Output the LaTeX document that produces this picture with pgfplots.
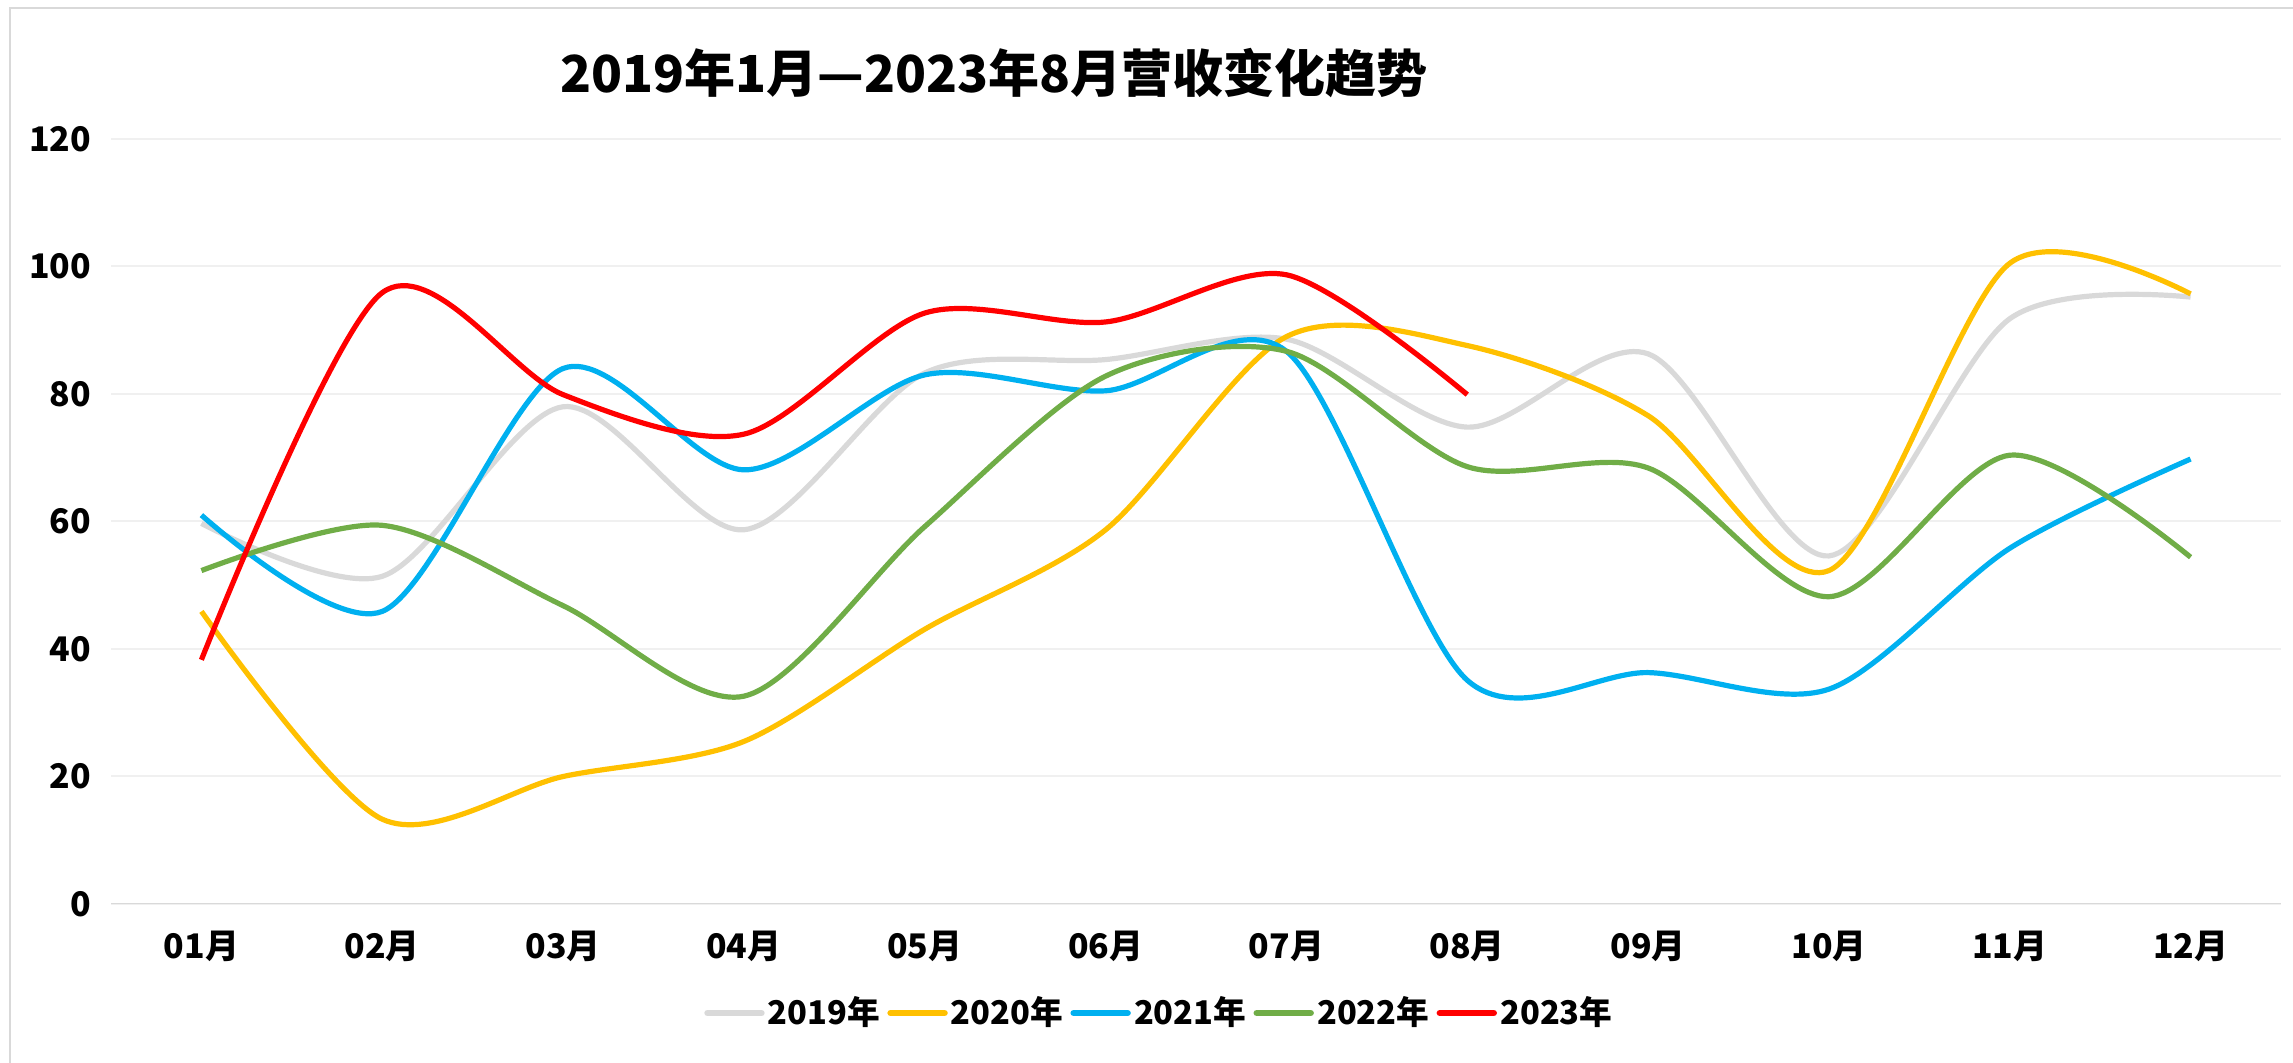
\documentclass[border=0pt]{standalone}
\usepackage{fontspec}
\setmainfont{Noto Sans CJK SC}
\usepackage{pgfplots}
\pgfplotsset{compat=1.18}
\definecolor{c19}{HTML}{D9D9D9}
\definecolor{c20}{HTML}{FFC000}
\definecolor{c21}{HTML}{00B0F0}
\definecolor{c22}{HTML}{70AD47}
\definecolor{c23}{HTML}{FF0000}
\definecolor{gridc}{HTML}{F0F0F0}

\begin{document}
\begin{tikzpicture}
\path[use as bounding box] (-27.75bp,-39.75bp) rectangle (545.5bp,226bp);
\draw[c19, line width=0.6bp] (-25.25bp,-80bp) rectangle (580bp,224bp);
\begin{axis}[
  width=542.5bp, height=191.25bp, scale only axis,
  xmin=0.5, xmax=12.5, ymin=0, ymax=120,
  xtick={1,...,12},
  xticklabels={01月,02月,03月,04月,05月,06月,07月,08月,09月,10月,11月,12月},
  ytick={0,20,...,120},
  ymajorgrids, grid style={gridc, line width=0.5bp},
  axis line style={draw=none},
  major tick length=0pt,
  /pgf/number format/assume math mode=true,
  ticklabel style={font=\bfseries\fontsize{8.5}{8.5}\selectfont},
  xticklabel style={anchor=center, yshift=-10.5bp},
  yticklabel style={anchor=east, inner sep=0pt, xshift=-4.75bp},
  every axis plot/.append style={line width=1.3bp, smooth, tension=0.5},
  legend columns=5,
  legend style={draw=none, at={(0.4834,-0.1425)}, anchor=center,
    font=\bfseries\fontsize{8.2}{8.2}\selectfont,
    /tikz/every even column/.append style={column sep=1bp},
    nodes={inner xsep=0.8bp, inner ysep=0pt}},
  legend image code/.code={\draw[#1, line width=1.6bp, line cap=round] (0bp,0bp) -- (13.5bp,0bp);},
]
\draw[c19, line width=0.6bp] (rel axis cs:0,0) -- (rel axis cs:1,0);
\addplot[c19] coordinates {(1,59.7) (2,51.4) (3,78) (4,58.7) (5,83.3) (6,85.4) (7,88.6) (8,74.8) (9,86.3) (10,54.6) (11,91.8) (12,95.2)};
\addplot[c20] coordinates {(1,45.9) (2,13.3) (3,20) (4,25.5) (5,43.1) (6,58.7) (7,89) (8,87.6) (9,76.6) (10,52.3) (11,100.5) (12,95.7)};
\addplot[c21] coordinates {(1,61) (2,45.9) (3,84) (4,68.1) (5,83) (6,80.5) (7,86.7) (8,35.1) (9,36.3) (10,33.7) (11,55.8) (12,69.8)};
\addplot[c22] coordinates {(1,52.3) (2,59.4) (3,46.8) (4,32.6) (5,59.2) (6,82.8) (7,86.7) (8,68.6) (9,68.4) (10,48.2) (11,70.4) (12,54.4)};
\addplot[c23] coordinates {(1,38.3) (2,95.9) (3,79.9) (4,73.7) (5,92.7) (6,91.3) (7,98.7) (8,79.9)};
\legend{2019年,2020年,2021年,2022年,2023年}
\end{axis}
\node[font=\bfseries\fontsize{12.8}{12.8}\selectfont] at (220.75bp,207.75bp) {2019年1月—2023年8月营收变化趋势};
\end{tikzpicture}
\end{document}
